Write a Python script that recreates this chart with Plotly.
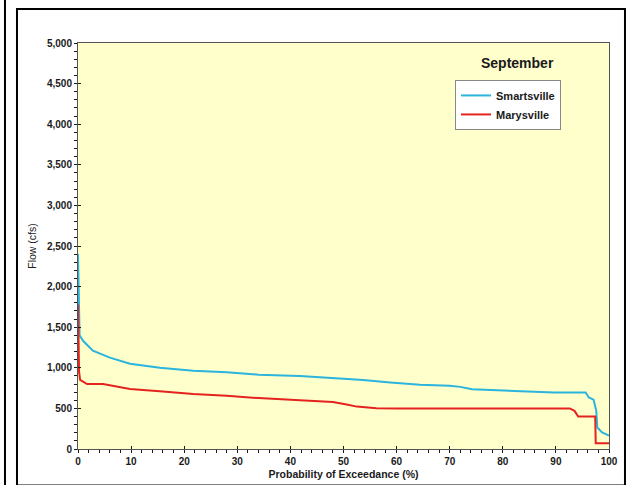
import plotly.graph_objects as go

# Probability of exceedance (%) and flow (cfs)
smartsville_x = [0, 0.3, 1, 2.8, 6, 9.8, 15.4, 21.7, 28, 34, 41.8, 49.3, 53.7, 58.8, 64.4, 70, 72, 74.2,
                 79.5, 85.8, 89.6, 95.6, 96.2, 97.1, 97.6, 97.8, 98.7, 100]
smartsville_y = [2400, 1400, 1330, 1210, 1125, 1050, 1000, 965, 945, 915, 900, 870, 850, 820, 790, 780,
                 765, 735, 725, 710, 697, 697, 635, 607, 470, 265, 205, 165]

marysville_x = [0, 0.1, 0.2, 0.4, 1.7, 4.7, 6.6, 9.8, 15.4, 21.7, 28, 34, 41.8, 48, 50.6, 52.5, 56.2,
                60, 92.6, 93.5, 94.2, 97.4, 97.5, 100]
marysville_y = [1780, 1050, 950, 850, 800, 800, 775, 740, 710, 678, 656, 627, 600, 580, 548, 522, 502,
                500, 500, 470, 400, 400, 70, 70]

month = "September"
x_title = "Probability of Exceedance (%)"
y_title = "Flow (cfs)"

BLUE = "#2AB4DE"
RED = "#E4231F"
FONT = "Liberation Sans"
INK = "#1a1a1a"

fig = go.Figure()
fig.add_trace(go.Scatter(x=smartsville_x, y=smartsville_y, mode="lines", name="Smartsville",
                         line=dict(color=BLUE, width=2)))
fig.add_trace(go.Scatter(x=marysville_x, y=marysville_y, mode="lines", name="Marysville",
                         line=dict(color=RED, width=2)))

axis_common = dict(showgrid=False, zeroline=False, showline=True, linecolor="#555555", linewidth=1,
                   mirror=True, ticks="outside", ticklen=3, tickcolor=INK, tickwidth=1, automargin=False,
                   tickfont=dict(family=FONT, size=10, color=INK, weight="bold"))

fig.update_layout(
    width=627, height=485,
    paper_bgcolor="white", plot_bgcolor="#FFFFCC",
    margin=dict(l=78, r=18, t=43, b=36),
    font=dict(family=FONT, color=INK),
    xaxis=dict(range=[0, 100], tickvals=[0, 10, 20, 30, 40, 50, 60, 70, 80, 90, 100],
               minor=dict(dtick=2, ticks="outside", ticklen=3, tickcolor=INK),
               title=dict(text=x_title, font=dict(family=FONT, size=10.5, weight="bold"), standoff=4),
               **axis_common),
    yaxis=dict(range=[0, 5000], dtick=500, tickformat=",",
               minor=dict(dtick=100, ticks="outside", ticklen=3, tickcolor=INK),
               title=dict(text=y_title, font=dict(family=FONT, size=10.5), standoff=8),
               **axis_common),
    xaxis2=dict(range=[0, 100], overlaying="x", dtick=10, ticks="inside", ticklen=3, showticklabels=False,
                showgrid=False, zeroline=False, tickcolor=INK, side="bottom", matches="x", automargin=False),
    yaxis2=dict(range=[0, 5000], overlaying="y", dtick=500, ticks="inside", ticklen=3, showticklabels=False,
                showgrid=False, zeroline=False, tickcolor=INK, side="left", matches="y", automargin=False),
    showlegend=True,
    legend=dict(x=0.710, y=0.909, xanchor="left", yanchor="top", bgcolor="white",
                bordercolor="#888888", borderwidth=1,
                font=dict(family=FONT, size=11, weight="bold"), itemwidth=30,
                tracegroupgap=0),
    annotations=[dict(text=month, x=0.8286, y=0.951, xref="paper", yref="paper", showarrow=False,
                      font=dict(family=FONT, size=14, weight="bold"), xanchor="center", yanchor="middle")],
    shapes=[
        # outer frame of this panel
        dict(type="rect", xref="paper", yref="paper", x0=-0.1149, x1=1.0301, y0=-0.09, y1=1.0837,
             line=dict(color="black", width=2)),
        # neighbouring panel edge on the left
        dict(type="line", xref="paper", yref="paper", x0=-0.1375, x1=-0.1375, y0=-0.1, y1=1.2,
             line=dict(color="black", width=2)),
    ],
)

# invisible trace to activate overlay axes for crossing major ticks
fig.add_trace(go.Scatter(x=[None], y=[None], xaxis="x2", yaxis="y2", showlegend=False, hoverinfo="skip"))

fig.write_html("out.html", config={"displayModeBar": False},
               post_script="document.body.style.margin='0px';document.body.style.overflow='hidden';")
